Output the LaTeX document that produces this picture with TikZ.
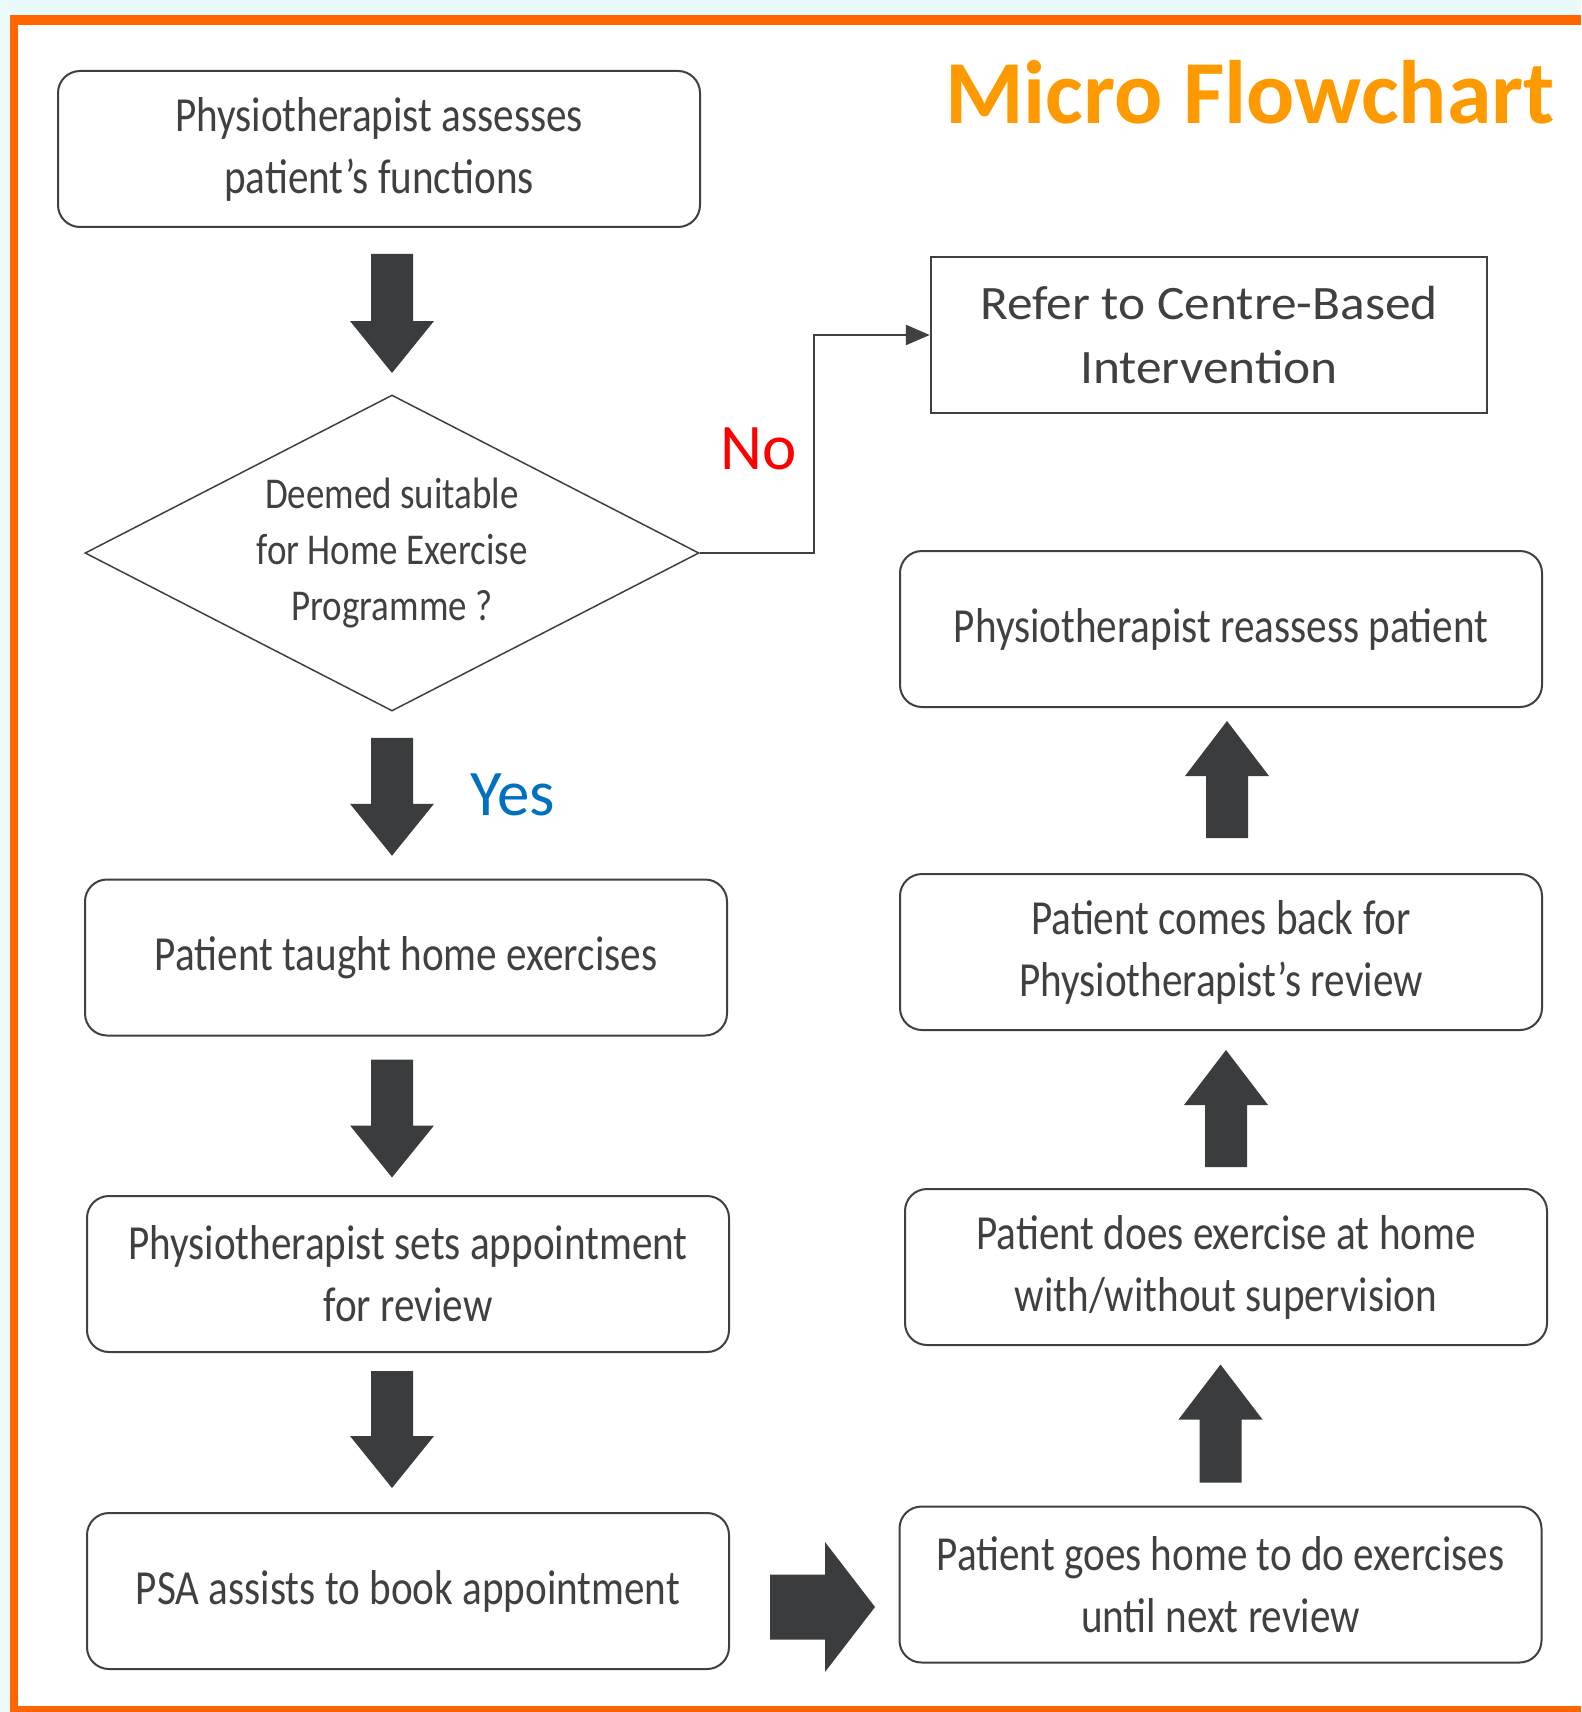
\documentclass[tikz,border=0pt]{standalone}
\usepackage{fontspec}
\setmainfont{Carlito}
\newfontfamily\boxfont[FakeStretch=0.84]{Carlito}
\newfontfamily\referfont[FakeStretch=1.07]{Carlito}
\usetikzlibrary{shapes.geometric,arrows.meta,calc}

\definecolor{framecol}{RGB}{255,102,0}
\definecolor{titlecol}{RGB}{255,153,0}
\definecolor{bgcyan}{RGB}{234,250,250}
\definecolor{linegray}{RGB}{64,64,64}
\definecolor{arrowgray}{RGB}{59,60,62}
\definecolor{nored}{RGB}{255,0,0}
\definecolor{yesblue}{RGB}{0,112,192}

\tikzset{every picture/.style={line width=0.75pt}}
\tikzset{
  stepbox/.style={draw=linegray, line width=2pt, rounded corners=22pt, minimum width=642pt, minimum height=156pt, inner sep=4pt, align=center, text=linegray, font=\boxfont\fontsize{49}{62}\selectfont},
  decbox/.style={diamond, draw=linegray, line width=1.5pt, minimum width=614pt, minimum height=316pt, aspect=1.94, inner sep=0pt, align=center, text=linegray, font=\boxfont\fontsize{44}{56}\selectfont},
  referbox/.style={draw=linegray, line width=2.5pt, minimum width=556pt, minimum height=156pt, inner sep=4pt, align=center, text=linegray, font=\referfont\fontsize{48}{64}\selectfont},
  conn/.style={draw=linegray, line width=2.5pt, -{Triangle[length=24pt,width=20pt]}},
  pics/blkarrow/.style args={#1/#2/#3}{code={
    \fill[arrowgray] (0,-#3) -- ({#1-#2},-#3) -- ({#1-#2},{-2*#3}) -- (#1,0) -- ({#1-#2},{2*#3}) -- ({#1-#2},#3) -- (0,#3) -- cycle;
  }}
}

\begin{document}
\begin{tikzpicture}[x=1pt,y=1pt,yscale=-1,xscale=1]
	%Background and frame
	\fill[bgcyan] (0,0) rectangle (1581,1712);
	\fill[framecol] (10,15) rectangle (1581,1712);
	\fill[white] (18,25) rectangle (1581,1706);
	\useasboundingbox (0,0) rectangle (1581,1712);

	% Title
	\node[anchor=base east, inner sep=0pt, text=titlecol, font=\bfseries\fontsize{90}{100}\selectfont] (title) at (1555,124) {Micro Flowchart};

	%Left column
	\node[stepbox] (assess) at (379,149) {Physiotherapist assesses\\patient’s functions};
	\node[decbox] (decide) at (392,553) {Deemed suitable\\for Home Exercise\\Programme ?};
	\node[stepbox] (taught) at (406,957.5) {Patient taught home exercises};
	\node[stepbox] (sets) at (408,1274) {Physiotherapist sets appointment\\for review};
	\node[stepbox] (psa) at (408,1591) {PSA assists to book appointment};

	%Right column
	\node[referbox] (refer) at (1209,335) {Refer to Centre-Based\\Intervention};
	\node[stepbox] (reassess) at (1221,629) {Physiotherapist reassess patient};
	\node[stepbox] (comes) at (1221,952) {Patient comes back for\\Physiotherapist’s review};
	\node[stepbox] (does) at (1226,1267) {Patient does exercise at home\\with/without supervision};
	\node[stepbox] (goes) at (1220.5,1584.5) {Patient goes home to do exercises\\until next review};

	% Text Node
	\node[anchor=base west, inner sep=0pt, text=nored, font=\fontsize{65}{70}\selectfont] (nolbl) at (720,469) {No};
	% Text Node
	\node[anchor=base west, inner sep=0pt, text=yesblue, font=\fontsize{65}{70}\selectfont] (yeslbl) at (470,815) {Yes};

	%No branch
	\draw[conn] (decide.east) -- ++(114,0) |- (refer.west);

	%Block arrows
	\pic[rotate=-90] at ($(decide.north |- assess.south)+(0,26)$) {blkarrow=119/52/21};
	\pic[rotate=-90] at ($(decide.south)+(0,26)$) {blkarrow=118/52/21};
	\pic[rotate=-90] at ($(decide.south |- taught.south)+(0,23)$) {blkarrow=118/52/21};
	\pic[rotate=-90] at ($(decide.south |- sets.south)+(0,18)$) {blkarrow=117/52/21};
	\pic at ($(psa.east)+(40,16)$) {blkarrow=105/50/32.5};
	\pic[rotate=90] at ($(goes.north)+(0,-23)$) {blkarrow=118/55/21};
	\pic[rotate=90] at ($(does.north)+(0,-21)$) {blkarrow=117/55/21};
	\pic[rotate=90] at ($(comes.north)+(6,-35)$) {blkarrow=117/55/21};
\end{tikzpicture}
\end{document}
